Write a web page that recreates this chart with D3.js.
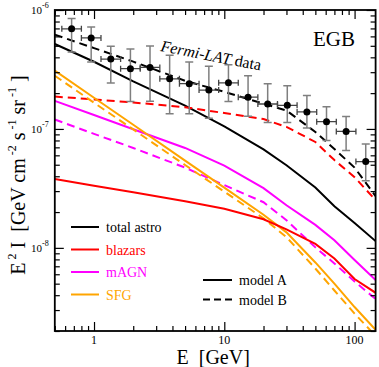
<!DOCTYPE html>
<html>
<head>
<meta charset="utf-8">
<script src="https://cdn.jsdelivr.net/npm/d3@7"></script>
<style>
  body { margin: 0; background: #fff; }
  text { font-family: "Liberation Serif", "DejaVu Serif", serif; white-space: pre; }
</style>
</head>
<body>
<script>
// Fermi-LAT EGB data (E in GeV, E^2 I in GeV cm^-2 s^-1 sr^-1)
var binEdges = [0.566, 0.8, 1.131, 1.6, 2.263, 3.2, 4.526, 6.4, 9.051, 12.8, 18.1, 25.6, 36.2, 51.2, 72.4, 102.4, 144.8];
var dataE  = [0.673, 0.951, 1.345, 1.903, 2.691, 3.806, 5.382, 7.611, 10.76, 15.22, 21.53, 30.44, 43.05, 60.89, 86.1, 121.8];
var dataI  = [6.94e-7, 5.82e-7, 3.87e-7, 3.21e-7, 3.29e-7, 2.64e-7, 2.40e-7, 2.12e-7, 2.44e-7, 1.85e-7, 1.62e-7, 1.58e-7, 1.39e-7, 1.15e-7, 9.53e-8, 5.32e-8];
var dataHi = [8.48e-7, 7.21e-7, 4.95e-7, 4.71e-7, 4.97e-7, 4.16e-7, 3.66e-7, 3.36e-7, 3.47e-7, 2.80e-7, 2.40e-7, 2.31e-7, 1.91e-7, 1.54e-7, 1.27e-7, 7.46e-8];
var dataLo = [4.44e-7, 3.66e-7, 2.43e-7, 1.70e-7, 1.71e-7, 1.34e-7, 1.34e-7, 1.23e-7, 1.70e-7, 1.28e-7, 1.13e-7, 1.13e-7, 1.02e-7, 8.0e-8, 6.59e-8, 3.66e-8];

// model curves sampled at these energies
var curveE = [0.5, 1, 2, 5, 10, 20, 30, 50, 70, 100, 145];
var totalA   = [5.18e-7, 3.67e-7, 2.51e-7, 1.57e-7, 1.05e-7, 6.74e-8, 4.95e-8, 3.22e-8, 2.24e-8, 1.62e-8, 1.14e-8];
var totalB   = [6.21e-7, 4.78e-7, 3.68e-7, 2.54e-7, 2.05e-7, 1.63e-7, 1.43e-7, 9.44e-8, 6.78e-8, 4.73e-8, 2.72e-8];
var blazarsA = [3.79e-8, 3.33e-8, 2.93e-8, 2.47e-8, 2.13e-8, 1.74e-8, 1.43e-8, 1.08e-8, 8.15e-9, 5.47e-9, 4.19e-9];
var blazarsB = [1.87e-7, 1.77e-7, 1.67e-7, 1.52e-7, 1.36e-7, 1.21e-7, 1.04e-7, 7.77e-8, 5.47e-8, 3.93e-8, 2.52e-8];
var magnA    = [1.72e-7, 1.31e-7, 9.93e-8, 6.92e-8, 4.92e-8, 3.18e-8, 2.28e-8, 1.56e-8, 1.16e-8, 7.92e-9, 5.37e-9];
var magnB    = [1.20e-7, 9.09e-8, 6.92e-8, 4.73e-8, 3.37e-8, 2.42e-8, 1.71e-8, 1.01e-8, 7.40e-9, 5.21e-9, 3.72e-9];
var sfgA     = [3.09e-7, 1.83e-7, 1.085e-7, 5.42e-8, 3.21e-8, 1.90e-8, 1.35e-8, 7.54e-9, 5.01e-9, 3.18e-9, 2.05e-9];
var sfgB     = [2.80e-7, 1.66e-7, 9.91e-8, 4.97e-8, 2.97e-8, 1.77e-8, 1.23e-8, 6.71e-9, 4.38e-9, 2.80e-9, 1.82e-9];

var xMajor = [1, 10, 100];
var yMajor = [1e-8, 1e-7, 1e-6];
var yExp = ["-8", "-7", "-6"];

var legendNames = ["total astro", "blazars", "mAGN", "SFG"];
var legendColors = ["#000000", "#ff0000", "#ff00ff", "#ffa500"];
var modelNames = ["model A", "model B"];

var w = 379, h = 367;
var pLeft = 54.8, pRight = 375.6, pTop = 10, pBottom = 331;

var svg = d3.select("body").append("svg")
    .attr("width", w).attr("height", h);

var x = d3.scaleLog().domain([0.5, 145]).range([pLeft, pRight]);
var y = d3.scaleLog().domain([2e-9, 1e-6]).range([pBottom, pTop]);

svg.append("clipPath").attr("id", "clip")
  .append("rect").attr("x", pLeft).attr("y", pTop)
  .attr("width", pRight - pLeft).attr("height", pBottom - pTop);

var plot = svg.append("g").attr("clip-path", "url(#clip)");

var line = d3.line()
    .x(function (d) { return x(d[0]); })
    .y(function (d) { return y(d[1]); });

var curves = [
  { v: totalA, c: "#000000", dash: null },
  { v: totalB, c: "#000000", dash: "8,5" },
  { v: blazarsB, c: "#ff0000", dash: "8,5" },
  { v: magnA, c: "#ff00ff", dash: null },
  { v: magnB, c: "#ff00ff", dash: "8,5" },
  { v: sfgA, c: "#ffa500", dash: null },
  { v: sfgB, c: "#ffa500", dash: "8,5" },
  { v: blazarsA, c: "#ff0000", dash: null }
];

curves.forEach(function (cv) {
  plot.append("path")
    .attr("d", line(curveE.map(function (e, i) { return [e, cv.v[i]]; })))
    .attr("fill", "none")
    .attr("stroke", cv.c)
    .attr("stroke-width", 2)
    .attr("stroke-dasharray", cv.dash);
});

// data points with error bars
var pts = plot.append("g");
dataE.forEach(function (e, i) {
  var cx = x(e), cy = y(dataI[i]);
  var x0 = x(binEdges[i]), x1 = x(binEdges[i + 1]);
  var y0 = y(dataHi[i]), y1 = y(dataLo[i]);
  // vertical
  pts.append("line").attr("x1", cx).attr("x2", cx).attr("y1", y0).attr("y2", y1)
    .attr("stroke", "#7f7f7f").attr("stroke-width", 1.5);
  pts.append("line").attr("x1", cx - 4).attr("x2", cx + 4).attr("y1", y0).attr("y2", y0)
    .attr("stroke", "#7f7f7f").attr("stroke-width", 1.5);
  pts.append("line").attr("x1", cx - 4).attr("x2", cx + 4).attr("y1", y1).attr("y2", y1)
    .attr("stroke", "#7f7f7f").attr("stroke-width", 1.5);
  // horizontal
  pts.append("line").attr("x1", x0).attr("x2", x1).attr("y1", cy).attr("y2", cy)
    .attr("stroke", "#444").attr("stroke-width", 1.3);
  pts.append("line").attr("x1", x0).attr("x2", x0).attr("y1", cy - 3).attr("y2", cy + 3)
    .attr("stroke", "#444").attr("stroke-width", 1.3);
  pts.append("line").attr("x1", x1).attr("x2", x1).attr("y1", cy - 3).attr("y2", cy + 3)
    .attr("stroke", "#444").attr("stroke-width", 1.3);
  pts.append("circle").attr("cx", cx).attr("cy", cy).attr("r", 3.5).attr("fill", "#000");
});

// minor ticks
function minors(lo, hi) {
  var out = [];
  for (var p = Math.floor(Math.log10(lo)); p <= Math.ceil(Math.log10(hi)); p++) {
    for (var k = 2; k <= 9; k++) {
      var v = k * Math.pow(10, p);
      if (v >= lo && v <= hi) out.push(v);
    }
  }
  return out;
}
var xMinor = minors(0.5, 145);
var yMinor = minors(2e-9, 1e-6);

function drawAxis(axis, tr) {
  var g = svg.append("g").attr("transform", tr).call(axis);
  g.select(".domain").remove();
  g.selectAll(".tick line").attr("stroke", "#000").attr("stroke-width", 1.2);
  return g;
}
// bottom & top
drawAxis(d3.axisBottom(x).tickValues(xMajor).tickSize(-9).tickFormat(""), "translate(0," + pBottom + ")");
drawAxis(d3.axisBottom(x).tickValues(xMinor).tickSize(-5).tickFormat(""), "translate(0," + pBottom + ")");
drawAxis(d3.axisTop(x).tickValues(xMajor).tickSize(-9).tickFormat(""), "translate(0," + pTop + ")");
drawAxis(d3.axisTop(x).tickValues(xMinor).tickSize(-5).tickFormat(""), "translate(0," + pTop + ")");
// left & right
drawAxis(d3.axisLeft(y).tickValues(yMajor).tickSize(-9).tickFormat(""), "translate(" + pLeft + ",0)");
drawAxis(d3.axisLeft(y).tickValues(yMinor).tickSize(-5).tickFormat(""), "translate(" + pLeft + ",0)");
drawAxis(d3.axisRight(y).tickValues(yMajor).tickSize(-9).tickFormat(""), "translate(" + pRight + ",0)");
drawAxis(d3.axisRight(y).tickValues(yMinor).tickSize(-5).tickFormat(""), "translate(" + pRight + ",0)");

// frame
svg.append("rect").attr("x", pLeft).attr("y", pTop)
  .attr("width", pRight - pLeft).attr("height", pBottom - pTop)
  .attr("fill", "none").attr("stroke", "#000").attr("stroke-width", 1.8);

// tick labels
xMajor.forEach(function (v) {
  svg.append("text").attr("x", x(v)).attr("y", pBottom + 13)
    .attr("text-anchor", "middle").attr("font-size", 12).text(d3.format("d")(v));
});
yMajor.forEach(function (v, i) {
  var t = svg.append("text").attr("x", 31).attr("y", y(v) + 4).attr("font-size", 11);
  t.append("tspan").text("10");
  t.append("tspan").attr("dy", -6).attr("font-size", 8).text(yExp[i]);
});

// axis titles
svg.append("text").attr("x", (pLeft + pRight) / 2 - 2).attr("y", 364)
  .attr("text-anchor", "middle").attr("font-size", 20).text("E  [GeV]");

var yl = svg.append("text")
  .attr("transform", "translate(25,175) rotate(-90)")
  .attr("text-anchor", "middle").attr("font-size", 20);
yl.append("tspan").text("E");
yl.append("tspan").attr("dy", -9).attr("font-size", 12).text(" 2");
yl.append("tspan").attr("dy", 9).text(" I  [GeV cm");
yl.append("tspan").attr("dy", -9).attr("font-size", 12).text(" -2");
yl.append("tspan").attr("dy", 9).text(" s");
yl.append("tspan").attr("dy", -9).attr("font-size", 12).text(" -1");
yl.append("tspan").attr("dy", 9).text(" sr");
yl.append("tspan").attr("dy", -9).attr("font-size", 12).text(" -1");
yl.append("tspan").attr("dy", 9).text(" ]");

// labels in plot
svg.append("text").attr("x", 355).attr("y", 46).attr("text-anchor", "end")
  .attr("font-size", 21).text("EGB");

var fl = svg.append("text").attr("transform", "translate(160,51) rotate(11)")
  .attr("font-size", 16);
fl.append("tspan").attr("font-style", "italic").text("Fermi-LAT");
fl.append("tspan").text(" data");

// legend
legendNames.forEach(function (n, i) {
  var ly = 227 + i * 22.5;
  svg.append("line").attr("x1", 71).attr("x2", 99).attr("y1", ly).attr("y2", ly)
    .attr("stroke", legendColors[i]).attr("stroke-width", 2);
  svg.append("text").attr("x", 106).attr("y", ly + 5).attr("font-size", 14)
    .attr("fill", i === 0 ? "#000" : legendColors[i]).text(n);
});
modelNames.forEach(function (n, i) {
  var ly = 280 + i * 19.5;
  svg.append("line").attr("x1", 203).attr("x2", 232).attr("y1", ly).attr("y2", ly)
    .attr("stroke", "#000").attr("stroke-width", 2)
    .attr("stroke-dasharray", i === 1 ? "7,4" : null);
  svg.append("text").attr("x", 239).attr("y", ly + 5).attr("font-size", 14).text(n);
});
</script>
</body>
</html>
